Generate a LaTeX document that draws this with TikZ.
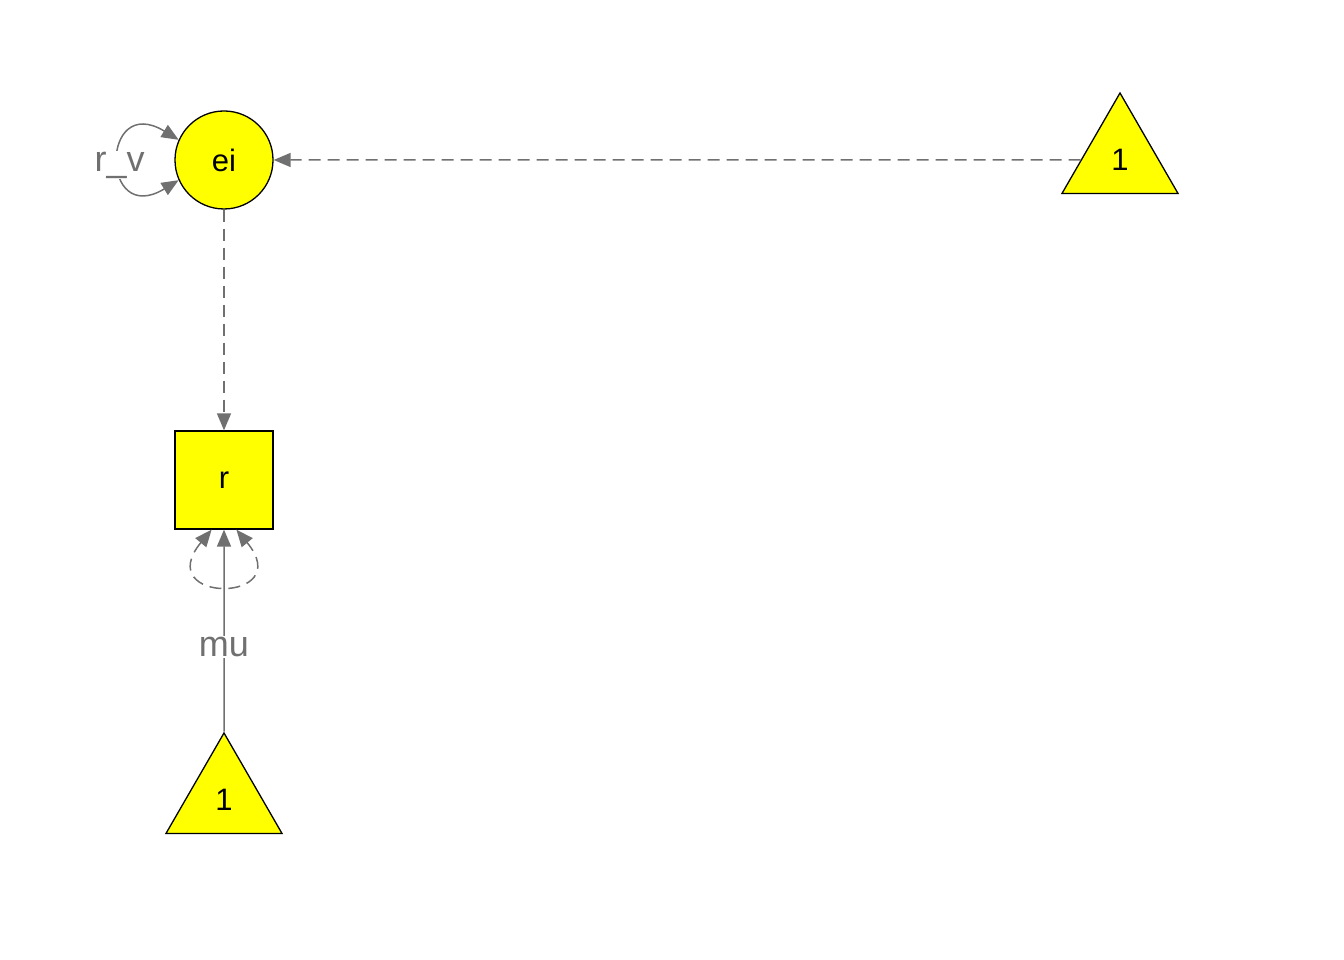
\documentclass[tikz,border=0pt]{standalone}
\usepackage{fontspec}
\setmainfont{Liberation Sans}
\usetikzlibrary{shapes.geometric,arrows.meta}

\definecolor{pathgray}{RGB}{112,112,112}
\definecolor{nodeyellow}{RGB}{255,255,0}

\begin{document}
\begin{tikzpicture}[x=1pt, y=1pt,
    latent/.style={circle, draw=black, fill=nodeyellow, line width=1.3pt, minimum size=98pt, inner sep=0pt, font=\fontsize{31}{35}\selectfont},
    manifest/.style={rectangle, draw=black, fill=nodeyellow, line width=1.3pt, minimum size=98pt, inner sep=0pt, font=\fontsize{31}{35}\selectfont},
    constant/.style={regular polygon, regular polygon sides=3, draw=black, fill=nodeyellow, line width=1.3pt, minimum size=134pt, inner sep=0pt, font=\fontsize{31}{35}\selectfont},
    pathlab/.style={fill=white, text=pathgray, inner sep=1pt, font=\fontsize{36}{40}\selectfont},
    onehead/.style={-{Triangle[length=17pt,width=14pt]}, draw=pathgray, line width=1.5pt},
    twohead/.style={{Triangle[length=17pt,width=14pt]}-{Triangle[length=17pt,width=14pt]}, draw=pathgray, line width=1.5pt},
    fixedpath/.style={dash pattern=on 12pt off 7pt}]

    % \draw[step=100pt,gray!30,very thin] (0,0) grid (1344,960);
    \useasboundingbox (0,0) rectangle (1344,960);

    \node[latent]   (ei)   at ( 224 , 800 ) {ei};
    \node[manifest] (r)    at ( 224 , 480 ) {r};
    \node[constant] (oneA) at ( 1120 , 800 ) {1};
    \node[constant] (oneB) at ( 224 , 160 ) {1};

    \draw[onehead, fixedpath] (oneA) -- (ei);
    \draw[onehead, fixedpath] (ei) -- (r);
    \draw[onehead] (oneB) -- (r) node[pathlab, pos=0.42] (mu) {mu};

    \draw[twohead] (ei.156) .. controls (100,868) and (100,732) .. (ei.204)
        node[pathlab, pos=0.5, yshift=-5pt] (rv) {r\_v};
    \draw[twohead, fixedpath] (r.-104) .. controls (150,356) and (298,356) .. (r.-76);
\end{tikzpicture}
\end{document}
